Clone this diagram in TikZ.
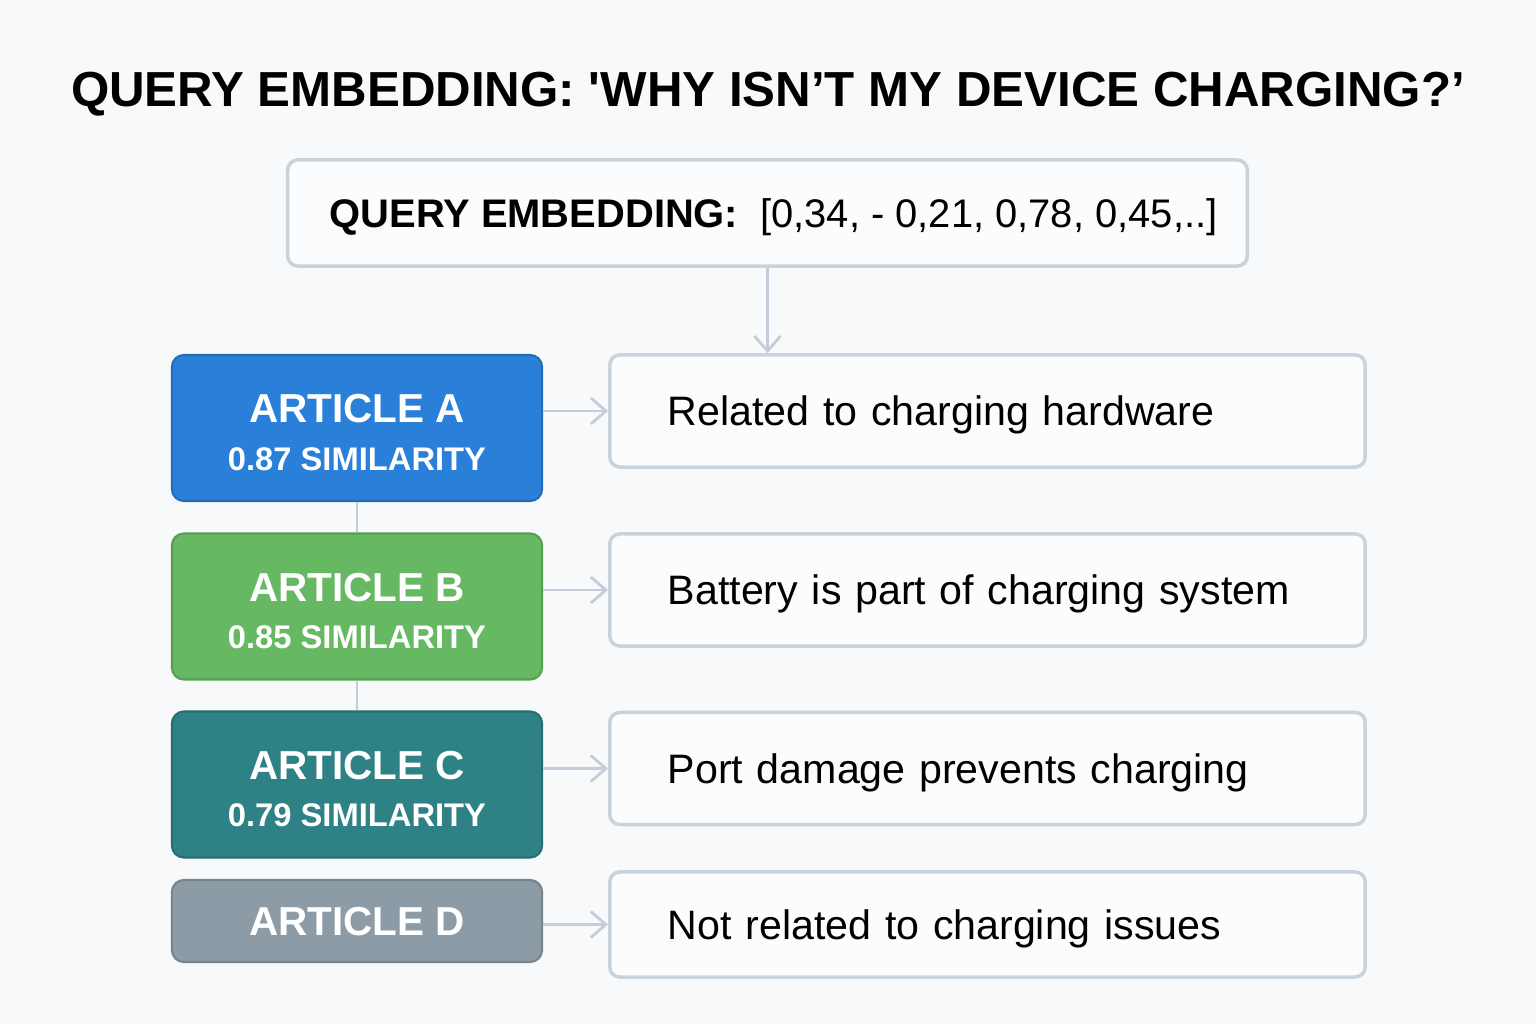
\documentclass[tikz,border=0pt]{standalone}
\usepackage{fontspec}
\setmainfont{Liberation Sans}
\usetikzlibrary{arrows.meta}

\definecolor{bgpage}{HTML}{F8F9FB}
\definecolor{boxfill}{HTML}{FBFCFD}
\definecolor{boxline}{HTML}{C9D3DE}
\definecolor{linkgray}{HTML}{C3CEDA}
\definecolor{artblue}{HTML}{2A7FD9}
\definecolor{artgreen}{HTML}{66B962}
\definecolor{artteal}{HTML}{2E8286}
\definecolor{artgray}{HTML}{8C9BA5}

\tikzset{
  article/.style={draw=#1!85!black,fill=#1,rounded corners=1.2mm,minimum width=3.7cm,
    text=white,align=center,line width=0.6pt},
  notebox/.style={draw=boxline,fill=boxfill,rounded corners=1mm,minimum height=1.12cm,
    text width=6.39cm,inner xsep=0.58cm,align=left,line width=1pt,text depth=0pt,
    font=\fontsize{11.7}{14}\selectfont},
  link/.style={draw=linkgray,line width=0.8pt},
}

\newcommand{\artlabel}[2]{{\fontsize{11.5}{14}\selectfont\bfseries\rule{0pt}{10.6pt}#1}\\[1.4pt]{\fontsize{9.3}{10}\selectfont\bfseries #2}}

\begin{document}
\begin{tikzpicture}[x=0.01cm,y=-0.01cm,>={Straight Barb[length=1.5mm,width=2.6mm]}]
	\fill[bgpage] (0,0) rectangle (1536,1024);
	\useasboundingbox (0,0) rectangle (1536,1024);

	\node (title) at (768,94) {\fontsize{14}{16}\selectfont\bfseries QUERY EMBEDDING: \textquotesingle WHY ISN’T MY DEVICE CHARGING?’};

	\node[draw=boxline,fill=boxfill,rounded corners=1mm,line width=1pt,minimum width=9.59cm,minimum height=1.06cm,text depth=0pt] (query) at (767.5,213)
		{\fontsize{11.35}{13}\selectfont\hspace{0.12cm}\textbf{QUERY EMBEDDING:}\hspace{0.22cm}[0,34, - 0,21, 0,78, 0,45,..]};

	% articles
	\node[article=artblue,minimum height=1.46cm] (artA) at (357,428) {\artlabel{ARTICLE A}{0.87 SIMILARITY}};
	\node[article=artgreen,minimum height=1.46cm] (artB) at (357,606.5) {\artlabel{ARTICLE B}{0.85 SIMILARITY}};
	\node[article=artteal,minimum height=1.46cm] (artC) at (357,784.5) {\artlabel{ARTICLE C}{0.79 SIMILARITY}};
	\node[article=artgray,minimum height=0.82cm,text depth=0pt,font=\fontsize{11.5}{14}\selectfont\bfseries] (artD) at (357,921) {ARTICLE D};

	% explanations
	\node[notebox] (noteA) at (987.5,411) {Related to charging hardware};
	\node[notebox] (noteB) at (987.5,590) {Battery is part of charging system};
	\node[notebox] (noteC) at (987.5,768.5) {Port damage prevents charging};
	\node[notebox,minimum height=1.05cm] (noteD) at (987.5,924.5) {Not related to charging issues};

	\draw[link,->] (query.south) -- (query.south |- noteA.north);
	\draw[link] (artA.south) -- (artB.north);
	\draw[link] (artB.south) -- (artC.north);
	\foreach \a/\n in {artA/noteA,artB/noteB,artC/noteC,artD/noteD}
		\draw[link,->] (\a.east |- \n.west) -- (\n.west);
\end{tikzpicture}
\end{document}
